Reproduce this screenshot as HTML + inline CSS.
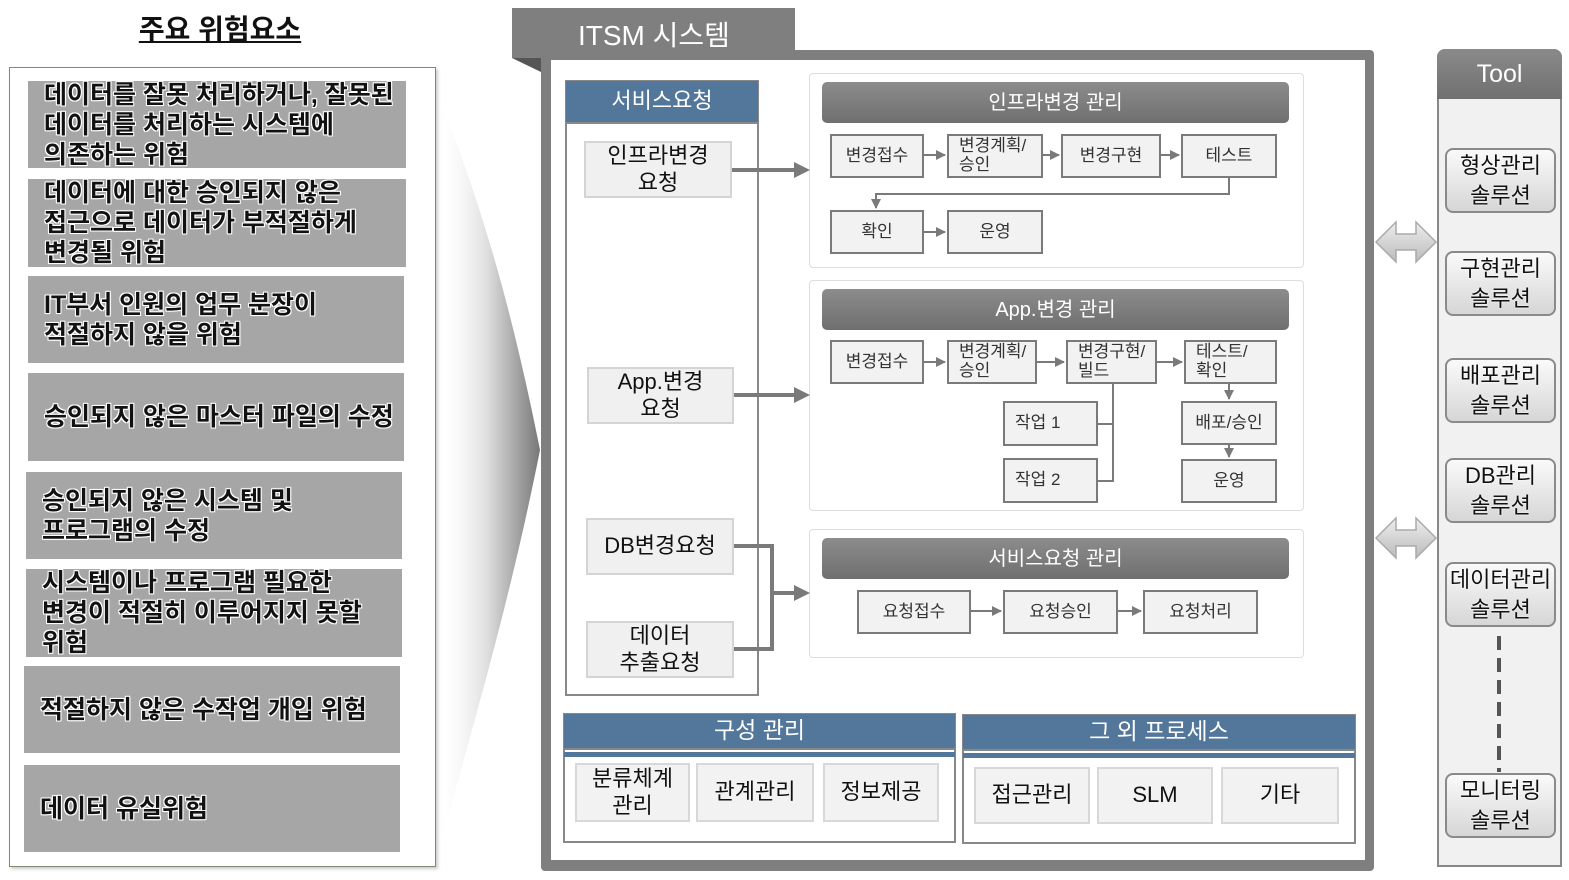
<!DOCTYPE html>
<html><head><meta charset="utf-8"><style>
*{margin:0;padding:0;box-sizing:border-box}
body{width:1569px;height:880px;background:#fff;position:relative;overflow:hidden;font-family:"Liberation Sans","Noto Sans CJK KR",sans-serif}
.a{position:absolute}
.c{display:flex;align-items:center;justify-content:center;text-align:center;line-height:1.2}
.risk{position:absolute;background:#a6a6a6;color:#111;font-weight:bold;font-size:25px;line-height:30px;padding-left:16px;display:flex;align-items:center;text-shadow:-1px -1px 0 #fff,1px -1px 0 #fff,-1px 1px 0 #fff,1px 1px 0 #fff,0 0 2px #fff}
.req{position:absolute;background:#f0f0f0;border:2px solid #d4d4d4;font-size:22px;color:#111}
.hd{position:absolute;border-radius:5px;background:linear-gradient(#8c8c8c,#6f6f6f);color:#fff;font-size:20px}
.bx{position:absolute;background:#f2f2f2;border:2px solid #7a7a7a;font-size:17px;color:#333}
.bl{text-align:left;justify-content:flex-start;padding-left:10px;line-height:1.1}
.panel{position:absolute;border:1px solid #ddd;border-radius:4px;background:#fff}
.gb{position:absolute;background:#f2f2f2;border:2px solid #d8d8d8;font-size:22px;color:#111}
.tb{position:absolute;left:1445px;width:111px;height:65px;border:2px solid #8a8a8a;border-radius:8px;background:linear-gradient(#fafafa,#d6d6d6);font-size:22px;color:#111;line-height:30px;text-shadow:0 0 2px #fff}
</style></head><body>

<div class="a" style="left:0;width:440px;top:8px;text-align:center;font-size:28px;font-weight:bold;text-decoration:underline;color:#111">주요 위험요소</div>
<div class="a" style="left:9px;top:67px;width:427px;height:800px;border:1px solid #7c8c70;box-shadow:2px 2px 3px #ccc"></div>
<div class="risk" style="left:28px;top:81px;width:378px;height:87px">데이터를 잘못 처리하거나, 잘못된<br>데이터를 처리하는 시스템에<br>의존하는 위험</div>
<div class="risk" style="left:28px;top:179px;width:378px;height:88px">데이터에 대한 승인되지 않은<br>접근으로 데이터가 부적절하게<br>변경될 위험</div>
<div class="risk" style="left:28px;top:276px;width:376px;height:87px">IT부서 인원의 업무 분장이<br>적절하지 않을 위험</div>
<div class="risk" style="left:28px;top:373px;width:376px;height:88px">승인되지 않은 마스터 파일의 수정</div>
<div class="risk" style="left:26px;top:472px;width:376px;height:87px">승인되지 않은 시스템 및<br>프로그램의 수정</div>
<div class="risk" style="left:26px;top:569px;width:376px;height:88px">시스템이나 프로그램 필요한<br>변경이 적절히 이루어지지 못할<br>위험</div>
<div class="risk" style="left:24px;top:666px;width:376px;height:87px">적절하지 않은 수작업 개입 위험</div>
<div class="risk" style="left:24px;top:765px;width:376px;height:87px">데이터 유실위험</div>

<svg class="a" style="left:0;top:0" width="1569" height="880">
<defs><linearGradient id="f" x1="0" x2="1"><stop offset="0" stop-color="#fff" stop-opacity="0"/><stop offset="0.5" stop-color="#ddd"/><stop offset="1" stop-color="#777"/></linearGradient>
<linearGradient id="da" x1="0" y1="0" x2="0" y2="1"><stop offset="0" stop-color="#eee"/><stop offset="1" stop-color="#bbb"/></linearGradient></defs>
<path d="M436,90 C480,200 510,300 540,450 C510,600 480,700 436,860 Z" fill="url(#f)"/>
<rect x="512" y="8" width="283" height="50" fill="#7f7f7f"/>
<polygon points="512,58 541,58 541,72" fill="#555"/>
<rect x="541" y="50" width="833" height="821" rx="4" fill="#7f7f7f"/>
<rect x="551" y="60" width="814" height="800" fill="#fff"/>
<g fill="url(#da)" stroke="#aaa" stroke-width="1.5">
<polygon points="1376,242 1396,222 1396,234 1416,234 1416,222 1436,242 1416,262 1416,250 1396,250 1396,262"/>
<polygon points="1376,538 1396,518 1396,530 1416,530 1416,518 1436,538 1416,558 1416,546 1396,546 1396,558"/>
</g>
</svg>
<div class="a" style="left:578px;top:14px;color:#fff;font-size:28px">ITSM 시스템</div>

<div class="a" style="left:565px;top:80px;width:194px;height:616px;border:2px solid #888"></div>
<div class="a c" style="left:566px;top:81px;width:192px;height:43px;background:#53779b;color:#fff;font-size:22px;border-bottom:2px solid #888">서비스요청</div>
<div class="req c" style="left:584px;top:141px;width:148px;height:57px">인프라변경<br>요청</div>
<div class="req c" style="left:587px;top:367px;width:147px;height:57px">App.변경<br>요청</div>
<div class="req c" style="left:586px;top:518px;width:148px;height:57px">DB변경요청</div>
<div class="req c" style="left:586px;top:621px;width:148px;height:57px">데이터<br>추출요청</div>

<div class="panel" style="left:809px;top:73px;width:495px;height:195px"></div>
<div class="panel" style="left:809px;top:280px;width:495px;height:231px"></div>
<div class="panel" style="left:809px;top:529px;width:495px;height:129px"></div>
<div class="hd c" style="left:822px;top:82px;width:467px;height:41px">인프라변경 관리</div>
<div class="hd c" style="left:822px;top:289px;width:467px;height:41px">App.변경 관리</div>
<div class="hd c" style="left:822px;top:538px;width:467px;height:41px">서비스요청 관리</div>

<div class="bx c" style="left:830px;top:134px;width:94px;height:44px">변경접수</div>
<div class="bx c bl" style="left:947px;top:134px;width:96px;height:44px">변경계획/<br>승인</div>
<div class="bx c" style="left:1061px;top:134px;width:100px;height:44px">변경구현</div>
<div class="bx c" style="left:1181px;top:134px;width:96px;height:44px">테스트</div>
<div class="bx c" style="left:830px;top:210px;width:94px;height:44px">확인</div>
<div class="bx c" style="left:947px;top:210px;width:96px;height:44px">운영</div>

<div class="bx c" style="left:830px;top:340px;width:94px;height:44px">변경접수</div>
<div class="bx c bl" style="left:947px;top:340px;width:90px;height:44px">변경계획/<br>승인</div>
<div class="bx c bl" style="left:1066px;top:340px;width:91px;height:44px">변경구현/<br>빌드</div>
<div class="bx c bl" style="left:1184px;top:340px;width:93px;height:44px">테스트/<br>확인</div>
<div class="bx c bl" style="left:1003px;top:401px;width:95px;height:45px">작업 1</div>
<div class="bx c bl" style="left:1003px;top:458px;width:95px;height:45px">작업 2</div>
<div class="bx c" style="left:1181px;top:401px;width:96px;height:44px">배포/승인</div>
<div class="bx c" style="left:1181px;top:459px;width:96px;height:44px">운영</div>

<div class="bx c" style="left:857px;top:590px;width:114px;height:44px">요청접수</div>
<div class="bx c" style="left:1003px;top:590px;width:115px;height:44px">요청승인</div>
<div class="bx c" style="left:1143px;top:590px;width:115px;height:44px">요청처리</div>

<svg class="a" style="left:0;top:0" width="1569" height="880">
<defs><marker id="m" markerWidth="4" markerHeight="4" refX="3" refY="2" orient="auto" markerUnits="strokeWidth"><path d="M0,0 L4,2 L0,4z" fill="#7a7a7a"/></marker>
<marker id="s" markerWidth="10" markerHeight="10" refX="9" refY="5" orient="auto" markerUnits="userSpaceOnUse"><path d="M0,0 L10,5 L0,10z" fill="#7a7a7a"/></marker></defs>
<g stroke="#7a7a7a" fill="none" stroke-width="4">
<path d="M732,170 H806" marker-end="url(#m)"/>
<path d="M734,395 H806" marker-end="url(#m)"/>
<path d="M734,546 H772 V649 H734"/>
<path d="M772,593 H806" marker-end="url(#m)"/>
</g>
<g stroke="#7a7a7a" fill="none" stroke-width="2">
<path d="M924,155 H945" marker-end="url(#s)"/>
<path d="M1043,155 H1059" marker-end="url(#s)"/>
<path d="M1161,155 H1179" marker-end="url(#s)"/>
<path d="M1229,178 V194 H876 V208" marker-end="url(#s)"/>
<path d="M924,232 H945" marker-end="url(#s)"/>
<path d="M924,362 H945" marker-end="url(#s)"/>
<path d="M1037,362 H1064" marker-end="url(#s)"/>
<path d="M1157,362 H1182" marker-end="url(#s)"/>
<path d="M1229,384 V399" marker-end="url(#s)"/>
<path d="M1229,445 V457" marker-end="url(#s)"/>
<path d="M1113,384 V481 H1098 M1113,424 H1098"/>
<path d="M971,611 H1001" marker-end="url(#s)"/>
<path d="M1118,611 H1141" marker-end="url(#s)"/>
</g>
</svg>

<div class="a" style="left:563px;top:713px;width:393px;height:130px;border:2px solid #888"></div>
<div class="a c" style="left:564px;top:714px;width:391px;height:36px;background:#53779b;color:#fff;font-size:23px;border-bottom:2px solid #888">구성 관리</div>
<div class="a" style="left:564px;top:752px;width:391px;height:5px;background:#53779b"></div>
<div class="gb c" style="left:575px;top:763px;width:115px;height:59px">분류체계<br>관리</div>
<div class="gb c" style="left:696px;top:763px;width:118px;height:59px">관계관리</div>
<div class="gb c" style="left:823px;top:763px;width:116px;height:59px">정보제공</div>

<div class="a" style="left:962px;top:714px;width:394px;height:130px;border:2px solid #888"></div>
<div class="a c" style="left:963px;top:715px;width:392px;height:36px;background:#53779b;color:#fff;font-size:23px;border-bottom:2px solid #888">그 외 프로세스</div>
<div class="a" style="left:963px;top:753px;width:392px;height:5px;background:#53779b"></div>
<div class="gb c" style="left:974px;top:767px;width:116px;height:57px">접근관리</div>
<div class="gb c" style="left:1097px;top:767px;width:116px;height:57px">SLM</div>
<div class="gb c" style="left:1221px;top:767px;width:118px;height:57px">기타</div>

<div class="a" style="left:1437px;top:49px;width:125px;height:818px;border:2px solid #888;border-radius:8px 8px 0 0;background:#f1f1f1"></div>
<div class="a c" style="left:1437px;top:49px;width:125px;height:50px;border-radius:8px 8px 0 0;background:linear-gradient(#8a8a8a,#707070);color:#fff;font-size:25px">Tool</div>
<svg class="a" style="left:1490px;top:630px" width="20" height="150"><path d="M9,6 V142" stroke="#555" stroke-width="4" stroke-dasharray="14,8" fill="none"/></svg>
<div class="tb c" style="top:148px">형상관리<br>솔루션</div>
<div class="tb c" style="top:251px">구현관리<br>솔루션</div>
<div class="tb c" style="top:358px">배포관리<br>솔루션</div>
<div class="tb c" style="top:458px">DB관리<br>솔루션</div>
<div class="tb c" style="top:562px">데이터관리<br>솔루션</div>
<div class="tb c" style="top:773px">모니터링<br>솔루션</div>
</body></html>
